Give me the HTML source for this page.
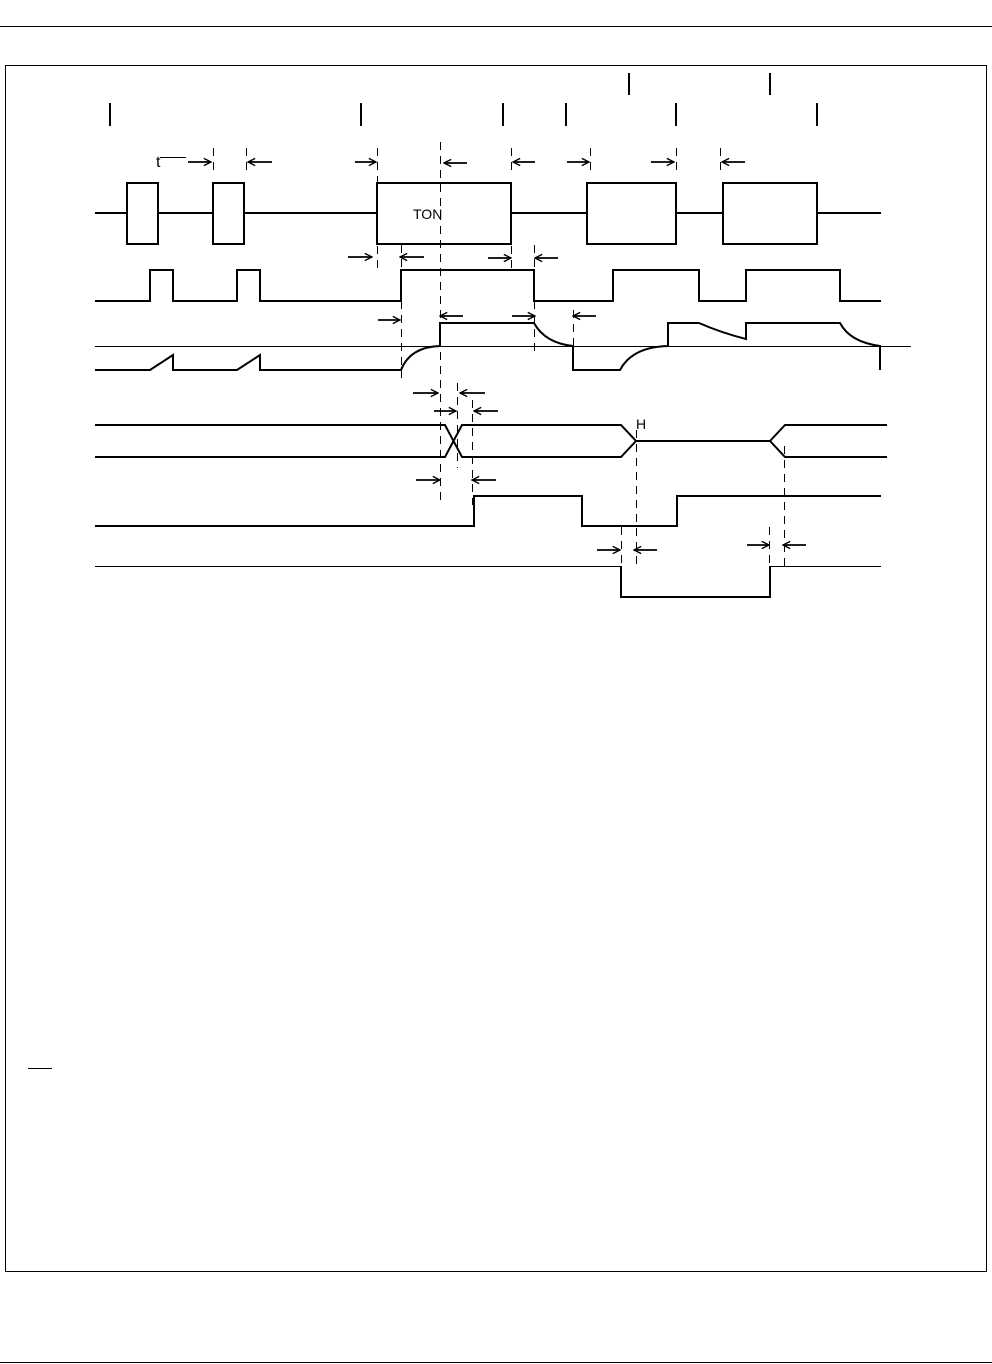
<!DOCTYPE html>
<html><head><meta charset="utf-8"><style>html,body{margin:0;padding:0;background:#fff}svg{display:block}</style></head><body>
<svg width="992" height="1364" viewBox="0 0 992 1364" xmlns="http://www.w3.org/2000/svg" font-family="Liberation Sans, sans-serif">
<defs>
<marker id="ar" viewBox="0 0 10 10" refX="9" refY="5" markerWidth="9" markerHeight="9" markerUnits="userSpaceOnUse" orient="auto"><path d="M1,1 L9,5 L1,9" fill="none" stroke="#000" stroke-width="1.6"/></marker>
</defs>
<line x1="0" y1="26.5" x2="992" y2="26.5" stroke="#000" stroke-width="1"/>
<line x1="0" y1="1362.5" x2="992" y2="1362.5" stroke="#000" stroke-width="1"/>
<rect x="5.5" y="65.5" width="981" height="1206" fill="none" stroke="#000" stroke-width="1"/>
<line x1="28" y1="1068.5" x2="52" y2="1068.5" stroke="#000" stroke-width="1"/>
<g stroke="#000" stroke-width="2">
<line x1="110" y1="103" x2="110" y2="126"/><line x1="361" y1="103" x2="361" y2="126"/><line x1="503" y1="103" x2="503" y2="126"/><line x1="566" y1="103" x2="566" y2="126"/><line x1="676" y1="103" x2="676" y2="126"/><line x1="817" y1="103" x2="817" y2="126"/>
<line x1="629" y1="73" x2="629" y2="95"/><line x1="770" y1="73" x2="770" y2="95"/>
</g>
<g fill="none" stroke="#000" stroke-width="2">
<path d="M95,213 H127 M158,213 H213 M244,213 H377 M511,213 H587 M676,213 H723 M817,213 H881"/>
<rect x="127" y="183" width="31" height="61"/><rect x="213" y="183" width="31" height="61"/>
<rect x="377" y="183" width="134" height="61"/><rect x="587" y="183" width="89" height="61"/><rect x="723" y="183" width="94" height="61"/>
<path d="M95,301 H150 V270 H173 V301 H237 V270 H260 V301 H401 V270 H534 V301 H613 V270 H699 V301 H746 V270 H840 V301 H881"/>
<path d="M95,370 H150 L173,355 V370 H237 L260,355 V370 H401 Q410,347 440,346 V323 H534 Q545,343 573,346 V370 H620 Q632,347 668,346 V323 H699 Q722,333 746,339 V323 H840 Q850,342 880,346 V370"/>
<path d="M95,425 H445 L462,457 H621 L636,441 H770 L785,457 H887"/>
<path d="M95,457 H445 L462,425 H621 L636,441 M770,441 L785,425 H887"/>
<path d="M95,526 H474 V496 H582 V526 H677 V496 H881"/>
<path d="M621,566 V597 H770 V566"/>
</g>
<g stroke="#000" stroke-width="1" fill="none">
<line x1="95" y1="346.5" x2="911" y2="346.5"/>
<line x1="95" y1="566.5" x2="621" y2="566.5"/><line x1="770" y1="566.5" x2="881" y2="566.5"/>
<line x1="160" y1="157.5" x2="186" y2="157.5"/>
</g>
<g stroke="#000" stroke-width="1" stroke-dasharray="8,6" fill="none">
<line x1="213.5" y1="148" x2="213.5" y2="174"/><line x1="246.5" y1="148" x2="246.5" y2="174"/>
<line x1="377.5" y1="148" x2="377.5" y2="274"/><line x1="440.5" y1="142" x2="440.5" y2="502"/>
<line x1="511.5" y1="148" x2="511.5" y2="174"/><line x1="590.5" y1="148" x2="590.5" y2="174"/>
<line x1="676.5" y1="148" x2="676.5" y2="174"/><line x1="720.5" y1="148" x2="720.5" y2="174"/>
<line x1="401.5" y1="245" x2="401.5" y2="378"/><line x1="534.5" y1="245" x2="534.5" y2="356"/>
<line x1="573.5" y1="310" x2="573.5" y2="350"/><line x1="511.5" y1="246" x2="511.5" y2="268"/>
<line x1="457.5" y1="383" x2="457.5" y2="468"/><line x1="472.5" y1="400" x2="472.5" y2="505"/>
<line x1="636.5" y1="430" x2="636.5" y2="566"/><line x1="784.5" y1="446" x2="784.5" y2="566"/>
<line x1="621.5" y1="527" x2="621.5" y2="566"/><line x1="769.5" y1="527" x2="769.5" y2="566"/>
</g>
<g stroke="#000" stroke-width="1.8" marker-end="url(#ar)">
<line x1="188" y1="162" x2="211" y2="162"/><line x1="272" y1="162" x2="248" y2="162"/>
<line x1="355" y1="162" x2="376" y2="162"/><line x1="467" y1="163" x2="444" y2="163"/>
<line x1="535" y1="162" x2="513" y2="162"/><line x1="567" y1="162" x2="589" y2="162"/>
<line x1="651" y1="162" x2="674" y2="162"/><line x1="745" y1="162" x2="722" y2="162"/>
<line x1="348" y1="257" x2="372" y2="257"/><line x1="424" y1="257" x2="400" y2="257"/>
<line x1="488" y1="258" x2="511" y2="258"/><line x1="558" y1="258" x2="535" y2="258"/>
<line x1="378" y1="320" x2="400" y2="320"/><line x1="463" y1="316" x2="440" y2="316"/>
<line x1="512" y1="316" x2="535" y2="316"/><line x1="596" y1="316" x2="573" y2="316"/>
<line x1="413" y1="393" x2="438" y2="393"/><line x1="485" y1="393" x2="460" y2="393"/>
<line x1="434" y1="411" x2="456" y2="411"/><line x1="498" y1="411" x2="474" y2="411"/>
<line x1="416" y1="480" x2="440" y2="480"/><line x1="496" y1="480" x2="472" y2="480"/>
<line x1="597" y1="550" x2="620" y2="550"/><line x1="657" y1="550" x2="634" y2="550"/>
<line x1="747" y1="545" x2="769" y2="545"/><line x1="806" y1="545" x2="783" y2="545"/>
</g>
<text x="156" y="167" font-size="16">t</text>
<text x="413" y="219" font-size="14">TON</text>
<text x="636" y="429" font-size="14">H</text>
</svg>
</body></html>
